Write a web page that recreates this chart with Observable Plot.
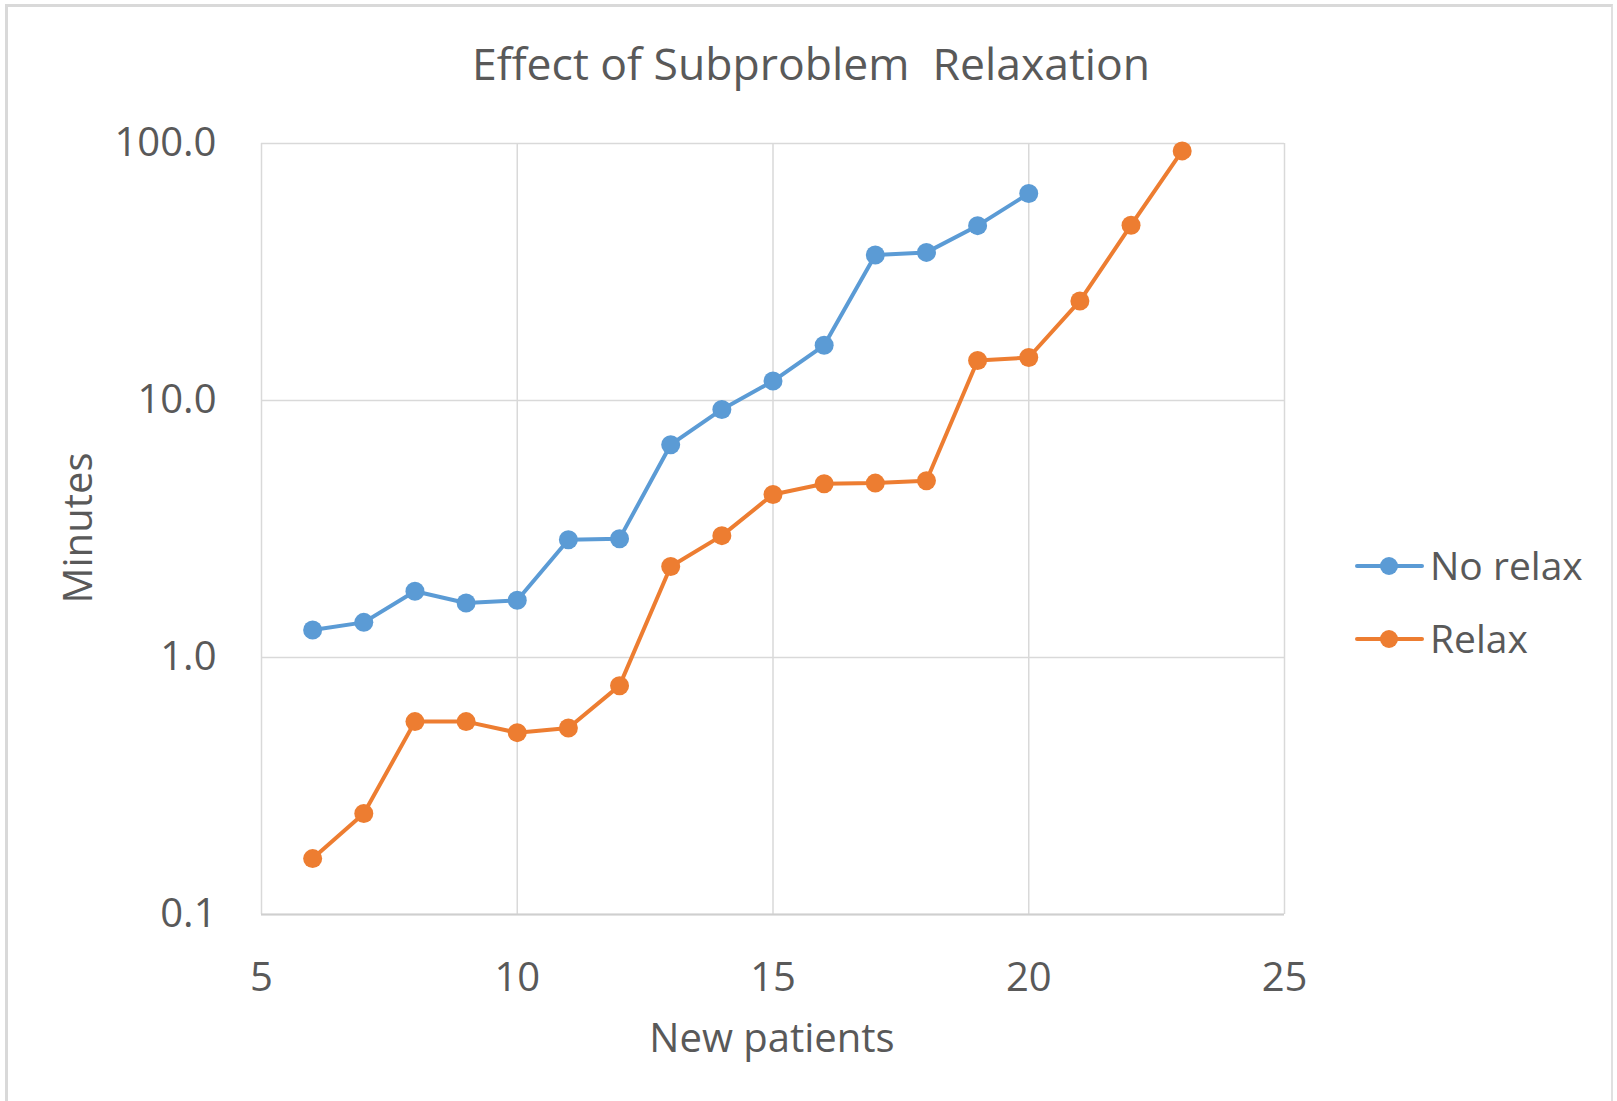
<!DOCTYPE html>
<html>
<head>
<meta charset="utf-8">
<script src="https://cdn.jsdelivr.net/npm/d3@7"></script>
<script src="https://cdn.jsdelivr.net/npm/@observablehq/plot@0.6"></script>
<style>
  html, body { margin: 0; padding: 0; background: #fff; }
  #wrap { position: relative; width: 1617px; height: 1101px; overflow: hidden; background: #fff; }
  #border { position: absolute; left: 5px; top: 4px; width: 1608px; height: 1200px;
            border-top: 3px solid #D9D9D9; border-left: 3px solid #D9D9D9; border-right: 2px solid #E0E0E0; box-sizing: border-box; }
  #chart { position: absolute; left: 0; top: 0; }
  #overlay { position: absolute; left: 0; top: 0; }
</style>
</head>
<body>
<div id="wrap">
  <div id="border"></div>
  <div id="chart"></div>
  <svg id="overlay" width="1617" height="1101"></svg>
</div>
<script>
// ---- data ----
const patients = [6, 7, 8, 9, 10, 11, 12, 13, 14, 15, 16, 17, 18, 19, 20, 21, 22, 23];
const noRelax = [1.28, 1.37, 1.81, 1.63, 1.67, 2.87, 2.90, 6.73, 9.23, 11.9, 16.4, 36.8, 37.7, 47.9, 63.9];
const relax = [0.165, 0.247, 0.563, 0.563, 0.510, 0.532, 0.777, 2.26, 2.98, 4.31, 4.74, 4.77, 4.87, 14.3, 14.7, 24.4, 48.1, 93.6];
const seriesNames = ["No relax", "Relax"];
const seriesColors = ["#5B9BD5", "#ED7D31"];
const xTicks = [5, 10, 15, 20, 25];
const yTicks = [0.1, 1, 10, 100];
const titleText = "Effect of Subproblem  Relaxation";
const xLabel = "New patients";
const yLabel = "Minutes";

const noRelaxData = noRelax.map((v, i) => ({n: patients[i], v}));
const relaxData = relax.map((v, i) => ({n: patients[i], v}));

const textColor = "#595959";
const gridColor = "#D9D9D9";

const chart = Plot.plot({
  width: 1617,
  height: 1101,
  marginLeft: 261,
  marginRight: 333,
  marginTop: 143,
  marginBottom: 187,
  x: {domain: [5, 25]},
  y: {type: "log", domain: [0.1, 100]},
  style: {fontFamily: "'Open Sans', sans-serif", fontSize: "40px", color: textColor, background: "transparent", overflow: "visible"},
  marks: [
    Plot.gridX(xTicks, {stroke: gridColor, strokeOpacity: 1, strokeWidth: 1.5}),
    Plot.gridY(yTicks, {stroke: gridColor, strokeOpacity: 1, strokeWidth: 1.5}),
    Plot.ruleY([0.1], {stroke: "#CFCFCF", strokeWidth: 2}),
    Plot.axisX(xTicks, {tickSize: 0, tickPadding: 48, fontSize: 40, label: null, fill: textColor}),
    Plot.axisY(yTicks, {tickSize: 0, tickPadding: 45, fontSize: 40, label: null, fill: textColor, tickFormat: d3.format(".1f")}),
    Plot.line(noRelaxData, {x: "n", y: "v", stroke: seriesColors[0], strokeWidth: 4}),
    Plot.dot(noRelaxData, {x: "n", y: "v", r: 9.5, fill: seriesColors[0], stroke: "none"}),
    Plot.line(relaxData, {x: "n", y: "v", stroke: seriesColors[1], strokeWidth: 4}),
    Plot.dot(relaxData, {x: "n", y: "v", r: 9.5, fill: seriesColors[1], stroke: "none"})
  ]
});
document.getElementById("chart").appendChild(chart);

// ---- overlay text and legend ----
const ov = d3.select("#overlay");
const font = "'Open Sans', sans-serif";

ov.append("text")
  .attr("x", 811).attr("y", 80)
  .attr("text-anchor", "middle")
  .attr("font-family", font).attr("font-size", 44.5)
  .attr("fill", textColor)
  .style("white-space", "pre")
  .attr("xml:space", "preserve")
  .text(titleText);

ov.append("text")
  .attr("x", 772).attr("y", 1052)
  .attr("text-anchor", "middle")
  .attr("font-family", font).attr("font-size", 40)
  .attr("fill", textColor)
  .text(xLabel);

ov.append("text")
  .attr("transform", "translate(92,528) rotate(-90)")
  .attr("text-anchor", "middle")
  .attr("font-family", font).attr("font-size", 40)
  .attr("fill", textColor)
  .text(yLabel);

const legendRows = [566, 639];
seriesNames.forEach((name, i) => {
  const g = ov.append("g").attr("transform", `translate(0,${legendRows[i]})`);
  g.append("line").attr("x1", 1357).attr("x2", 1422).attr("y1", 0).attr("y2", 0)
    .attr("stroke", seriesColors[i]).attr("stroke-width", 4).attr("stroke-linecap", "round");
  g.append("circle").attr("cx", 1389).attr("cy", 0).attr("r", 9).attr("fill", seriesColors[i]);
  g.append("text").attr("x", 1430).attr("y", 0).attr("dy", "0.36em")
    .attr("font-family", font).attr("font-size", 39).attr("fill", textColor)
    .text(name);
});
</script>
</body>
</html>
